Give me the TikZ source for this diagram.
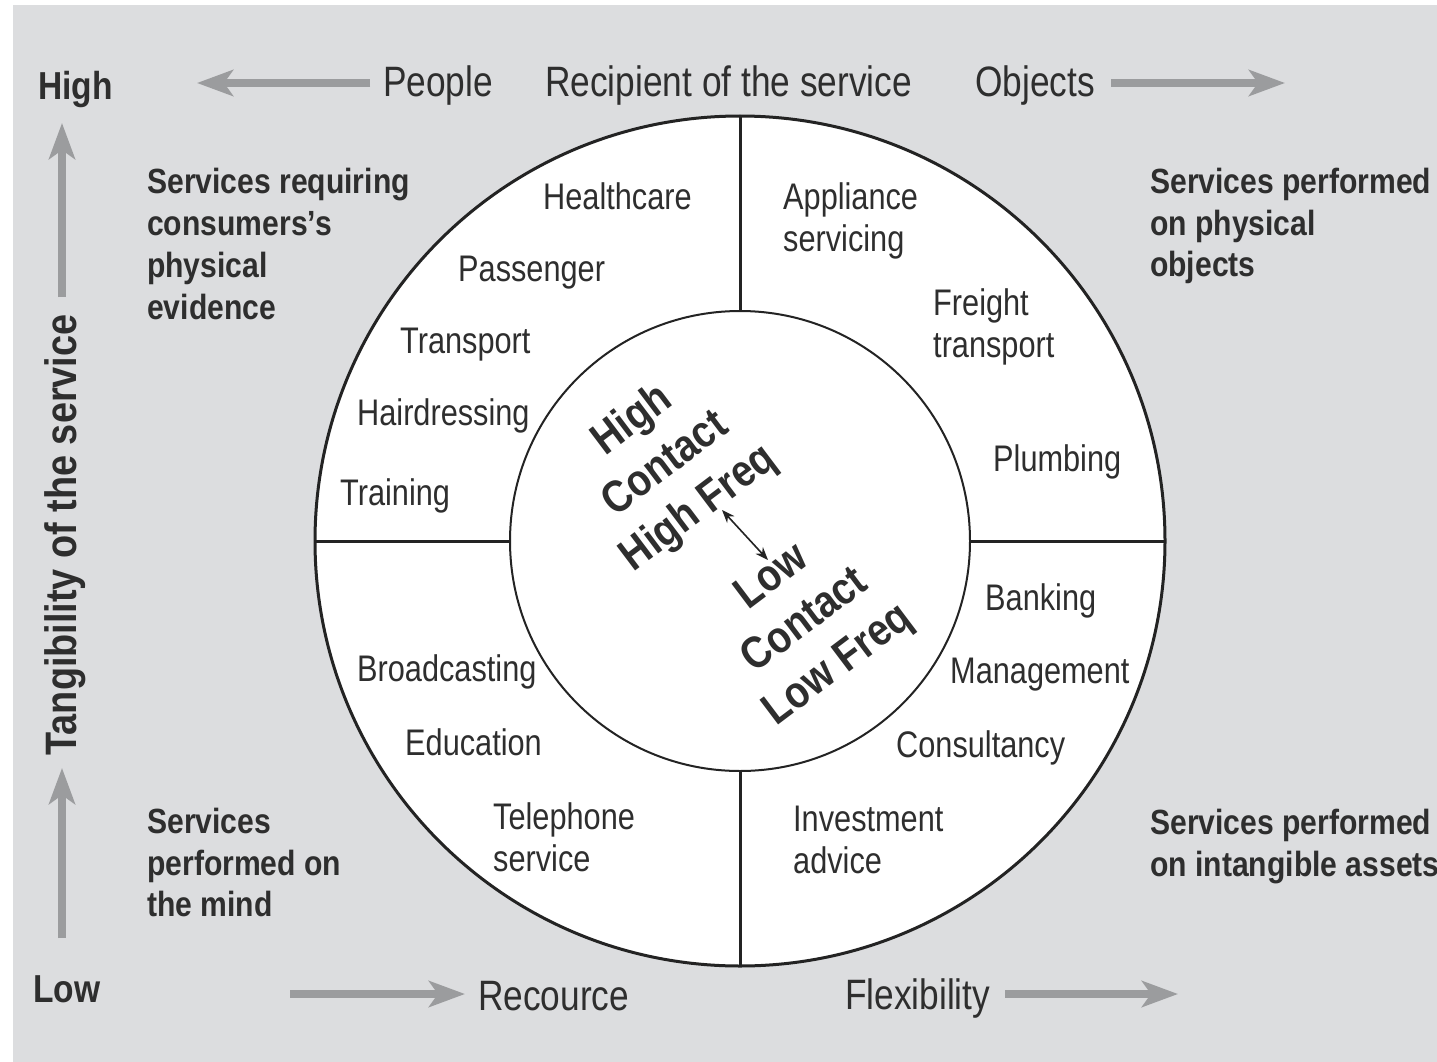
\documentclass[tikz,border=0pt]{standalone}
\usepackage{fontspec}
\setmainfont{Liberation Sans}[FakeStretch=0.83,BoldFeatures={FakeStretch=0.86}]
\usetikzlibrary{arrows.meta}
\definecolor{bggray}{HTML}{DCDDDF}
\definecolor{arrgray}{HTML}{9B9C9E}
\definecolor{txt}{HTML}{2E2E2E}
\definecolor{ink}{HTML}{232323}
\tikzset{
  garrow/.style={draw=arrgray, line width=8pt, -{Stealth[length=36pt,width=26pt,inset=9pt]}},
  lbl/.style={anchor=base west, inner sep=0pt, text=txt, font=\fontsize{37pt}{42pt}\selectfont},
  toplbl/.style={anchor=base west, inner sep=0pt, text=txt, font=\fontsize{42.5pt}{48pt}\selectfont},
  corner/.style={anchor=base west, inner sep=0pt, text=txt, font=\fontsize{35pt}{42pt}\selectfont\bfseries},
  hilo/.style={anchor=base west, inner sep=0pt, text=txt, font=\fontsize{39pt}{44pt}\selectfont\bfseries},
  ctr/.style={anchor=center, inner sep=0pt, text=txt, rotate=37, align=center, font=\fontsize{45pt}{55pt}\selectfont\bfseries},
  ring/.style={draw=ink, line width=3pt},
  innerring/.style={draw=ink, line width=2pt},
}
\begin{document}
\begin{tikzpicture}[x=1pt,y=-1pt]
\useasboundingbox (0,0) rectangle (1437,1062);
\fill[white] (0,0) rectangle (1437,1062);
\fill[bggray] (13,5) rectangle (1437,1062);

% circles
\coordinate (c) at (740,541);
\fill[white] (c) circle[radius=425pt];
\draw[ring] (c) circle[radius=425pt];
\draw[innerring] (c) circle[radius=230pt];
\draw[ring] (740,116) -- (740,311);
\draw[ring] (740,771) -- (740,966);
\draw[ring] (315,541) -- (510,541);
\draw[ring] (970,541) -- (1165,541);

% top row
\node[hilo] (high) at (38,100) {High};
\node[toplbl] (people) at (383,97) {People};
\node[toplbl] (recip) at (545,97) {Recipient of the service};
\node[toplbl] (objects) at (975,97) {Objects};
\coordinate (lA) at (370,83);
\coordinate (lB) at (197,83);
\coordinate (rA) at (1111,83);
\coordinate (rB) at (1285,83);
\draw[garrow] (lA) -- (lB);
\draw[garrow] (rA) -- (rB);

% bottom row
\node[hilo] (low) at (33,1002) {Low};
\node[toplbl] (recource) at (478,1010) {Recource};
\node[toplbl] (flex) at (845,1009) {Flexibility};
\coordinate (bA) at (290,994);
\coordinate (bB) at (465,994);
\coordinate (fA) at (1005,994);
\coordinate (fB) at (1178,994);
\draw[garrow] (bA) -- (bB);
\draw[garrow] (fA) -- (fB);

% vertical axis
\node[anchor=base, inner sep=0pt, text=txt, rotate=90, font=\fontsize{44pt}{50pt}\selectfont\bfseries] (tang) at (76,535) {Tangibility of the service};
\coordinate (uA) at (62,297);
\coordinate (uB) at (62,123);
\coordinate (dA) at (62,938);
\coordinate (dB) at (62,768);
\draw[garrow] (uA) -- (uB);
\draw[garrow] (dA) -- (dB);

% corner labels
\node[corner] (tl1) at (147,193) {Services requiring};
\node[corner] (tl2) at (147,235) {consumers’s};
\node[corner] (tl3) at (147,277) {physical};
\node[corner] (tl4) at (147,319) {evidence};
\node[corner] (tr1) at (1150,193) {Services performed};
\node[corner] (tr2) at (1150,235) {on physical};
\node[corner] (tr3) at (1150,276) {objects};
\node[corner] (bl1) at (147,833) {Services};
\node[corner] (bl2) at (147,875) {performed on};
\node[corner] (bl3) at (147,916) {the mind};
\node[corner] (br1) at (1150,834) {Services performed};
\node[corner] (br2) at (1150,876) {on intangible assets};

% quadrant labels
\node[lbl] (health) at (543,209) {Healthcare};
\node[lbl] (pass) at (458,281) {Passenger};
\node[lbl] (trans) at (400,353) {Transport};
\node[lbl] (hair) at (357,425) {Hairdressing};
\node[lbl] (train) at (340,505) {Training};
\node[lbl] (appl1) at (783,209) {Appliance};
\node[lbl] (appl2) at (783,251) {servicing};
\node[lbl] (frt1) at (933,315) {Freight};
\node[lbl] (frt2) at (933,357) {transport};
\node[lbl] (plumb) at (993,471) {Plumbing};
\node[lbl] (bank) at (985,610) {Banking};
\node[lbl] (mgmt) at (950,683) {Management};
\node[lbl] (cons) at (896,757) {Consultancy};
\node[lbl] (inv1) at (793,831) {Investment};
\node[lbl] (inv2) at (793,873) {advice};
\node[lbl] (broad) at (357,681) {Broadcasting};
\node[lbl] (edu) at (405,755) {Education};
\node[lbl] (tel1) at (493,829) {Telephone};
\node[lbl] (tel2) at (493,871) {service};

% centre
\node[ctr] (hg) at (666,465) {High\\Contact\\High Freq};
\node[ctr] (lg) at (806,622) {Low\\Contact\\Low Freq};
\coordinate (dAa) at (722,510);
\coordinate (dBb) at (768,560);
\draw[draw=ink, line width=1.6pt, {Stealth[length=13pt,width=10pt]}-{Stealth[length=13pt,width=10pt]}] (dAa) -- (dBb);
\end{tikzpicture}
\end{document}
